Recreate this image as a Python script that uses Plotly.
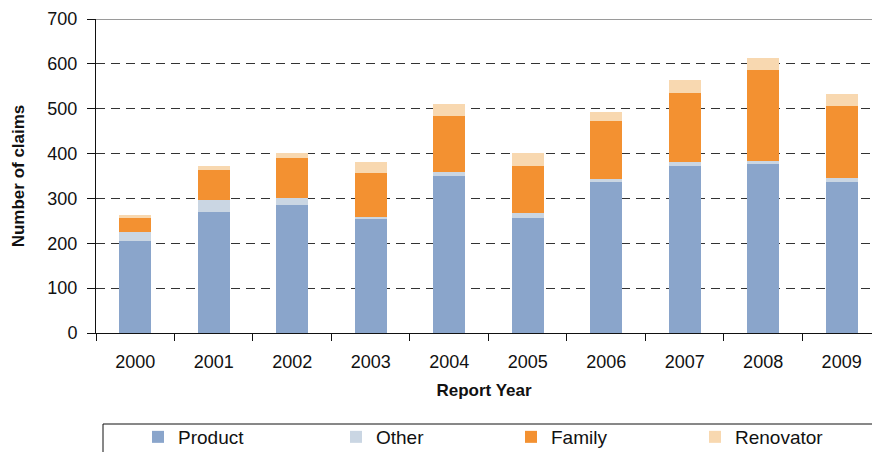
import plotly.graph_objects as go

years = ["2000", "2001", "2002", "2003", "2004", "2005", "2006", "2007", "2008", "2009"]
product = [206, 270, 286, 255, 350, 256, 337, 373, 377, 337]
other = [20, 27, 16, 3, 9, 11, 7, 9, 7, 9]
family = [31, 67, 89, 99, 125, 105, 129, 154, 203, 161]
renovator = [5, 9, 11, 25, 27, 29, 20, 27, 25, 25]

series = [
    ("Product", product, "#8AA5CB", "legend"),
    ("Other", other, "#CAD6E3", "legend2"),
    ("Family", family, "#F39131", "legend3"),
    ("Renovator", renovator, "#F8D8B0", "legend4"),
]

FONT = "Liberation Sans, Arial, sans-serif"

fig = go.Figure()
for name, vals, col, lg in series:
    fig.add_trace(go.Bar(x=years, y=vals, name=name, marker_color=col,
                         marker_line_width=0, legend=lg))

W, H = 872, 452
plot_left, plot_right, plot_top, plot_bottom = 96, 872, 19, 333
ml, mr, mt, mb = plot_left, W - plot_right, plot_top, H - plot_bottom
pw = W - ml - mr
ph = H - mt - mb

def px_x(p):
    return (p - ml) / pw

def px_y(p):
    return (plot_bottom - p) / ph

text_starts = [178, 376, 551, 735]
legend_common = dict(orientation="h", xanchor="left", yanchor="middle",
                     font=dict(family=FONT, size=19, color="#111"),
                     bgcolor="rgba(0,0,0,0)", borderwidth=0)
legends = {}
for i, ts in enumerate(text_starts):
    key = "legend" if i == 0 else f"legend{i+1}"
    legends[key] = dict(x=px_x(ts - 40), y=px_y(437), **legend_common)

fig.update_layout(
    width=W, height=H,
    margin=dict(l=ml, r=mr, t=mt, b=mb, pad=0, autoexpand=False),
    paper_bgcolor="white", plot_bgcolor="white",
    barmode="stack", bargap=0.59,
    font=dict(family=FONT, size=18, color="#111"),
    showlegend=True,
    **legends,
    xaxis=dict(
        type="category", range=[-0.5, 9.387], automargin=False,
        tickson="boundaries", ticks="outside", ticklen=7, tickcolor="#111", tickwidth=1,
        showline=True, linecolor="#111", linewidth=1,
        showgrid=False, tickfont=dict(size=18), ticklabelstandoff=12,
        title=dict(text="<b>Report Year</b>", font=dict(size=17), standoff=13),
    ),
    yaxis=dict(
        range=[0, 700], tickvals=[0, 100, 200, 300, 400, 500, 600, 700], automargin=False,
        ticks="outside", ticklen=8, tickcolor="#111", tickwidth=1,
        showline=True, linecolor="#111", linewidth=1,
        showgrid=True, gridcolor="#333", gridwidth=1, griddash="9px,6px",
        zeroline=False, tickfont=dict(size=18), ticklabelstandoff=6,
        title=dict(text="<b>Number of claims</b>", font=dict(size=17), standoff=18),
    ),
    shapes=[
        dict(type="line", xref="paper", yref="y", x0=0, x1=1, y0=700, y1=700,
             line=dict(color="#9a9a9a", width=2), layer="above"),
        dict(type="rect", xref="paper", yref="paper",
             x0=px_x(103), x1=px_x(920), y0=px_y(424), y1=px_y(480),
             line=dict(color="#111", width=1), fillcolor="rgba(0,0,0,0)", layer="above"),
    ],
)

fig.write_html(
    "out.html",
    config={"displayModeBar": False},
    post_script="document.body.style.margin='0';document.body.style.overflow='hidden';",
)
